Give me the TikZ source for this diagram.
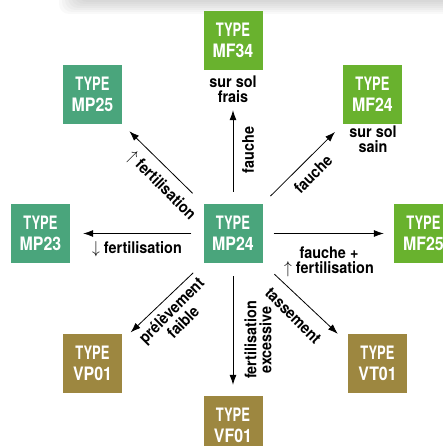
\documentclass[tikz,border=0pt]{standalone}
\usepackage{fontspec}
\setmainfont{TeX Gyre Heros}
\usetikzlibrary{arrows.meta}

\definecolor{mpgreen}{RGB}{74,165,124}
\definecolor{mfgreen}{RGB}{105,178,46}
\definecolor{volive}{RGB}{157,135,64}

\newcommand{\slim}[2]{\scalebox{#1}[1]{#2}}

\tikzset{
    typebox/.style={minimum size=59pt, inner sep=0pt, align=center, text=white, font=\bfseries\fontsize{18.5}{20.5}\selectfont},
    lbl/.style={rotate=#1, xscale=0.9, align=center, inner sep=0pt, font=\bfseries\fontsize{16}{15}\selectfont},
    lbl/.default=0,
    move/.style={-{Latex[length=10pt,width=7pt]}, line width=0.8pt},
}

\begin{document}
\begin{tikzpicture}[x=1pt, y=-1pt]
    \useasboundingbox (0,0) rectangle (442,446);
    \foreach \d in {2,4,...,14} {
        \fill[black, opacity=0.025, rounded corners=10pt] (80-1.5*\d,-30) rectangle (470,\d);
    }
    
    \foreach \n/\x/\y/\c in {MP24/233/233.5/mpgreen, MP25/92.5/94.5/mpgreen, MP23/40.5/233.5/mpgreen, MF34/233/40.5/mfgreen, MF24/372.5/94.5/mfgreen, MF25/423.5/233.5/mfgreen, VP01/92.5/363.5/volive, VF01/233/425.5/volive, VT01/377.5/363.5/volive} {
        \node[typebox, fill=\c] (\n) at (\x,\y) {\slim{0.7}{TYPE}\\\slim{0.86}{\n}};
    }
    \node[lbl] (frais) at (233,89) {sur sol\\frais};
    \node[lbl] (sain) at (373,139.5) {sur sol\\sain};
    
    \draw[move, shorten <=12pt, shorten >=40pt] (MP24) -- (MF34);
    \draw[move, shorten <=11pt, shorten >=11pt] (MP24.north east) -- (MF24.south west);
    \draw[move, shorten <=15pt, shorten >=10pt] (MP24.north west) -- (MP25.south east);
    \draw[move, shorten <=12pt, shorten >=13pt] (MP24) -- (MP23);
    \draw[move, shorten <=11pt, shorten >=10pt] (MP24) -- (MF25);
    \draw[move, shorten <=14pt, shorten >=2pt] (MP24.south west) -- ([xshift=7pt]VP01.north east);
    \draw[move, shorten <=13pt, shorten >=11pt] (MP24) -- (VF01);
    \draw[move, shorten <=16pt] (MP24.south east) -- ([xshift=-10pt]VT01.north west);
    
    \node[lbl=90] (up) at (248,150) {fauche};
    \node[lbl=45] (upright) at (313,174) {fauche};
    \node[lbl=-45] (upleft) at (161,186) {$\uparrow$ fertilisation};
    \node[lbl] (left) at (137,249) {$\downarrow$ fertilisation};
    \node[lbl=45] (downleft) at (177,316) {prélèvement\\faible};
    \node[lbl=90] (down) at (258,340) {fertilisation\\excessive};
    \node[lbl=-45] (downright) at (293,316) {tassement};
    \node[lbl] (right) at (329,262) {fauche +\\$\uparrow$ fertilisation};
\end{tikzpicture}
\end{document}
